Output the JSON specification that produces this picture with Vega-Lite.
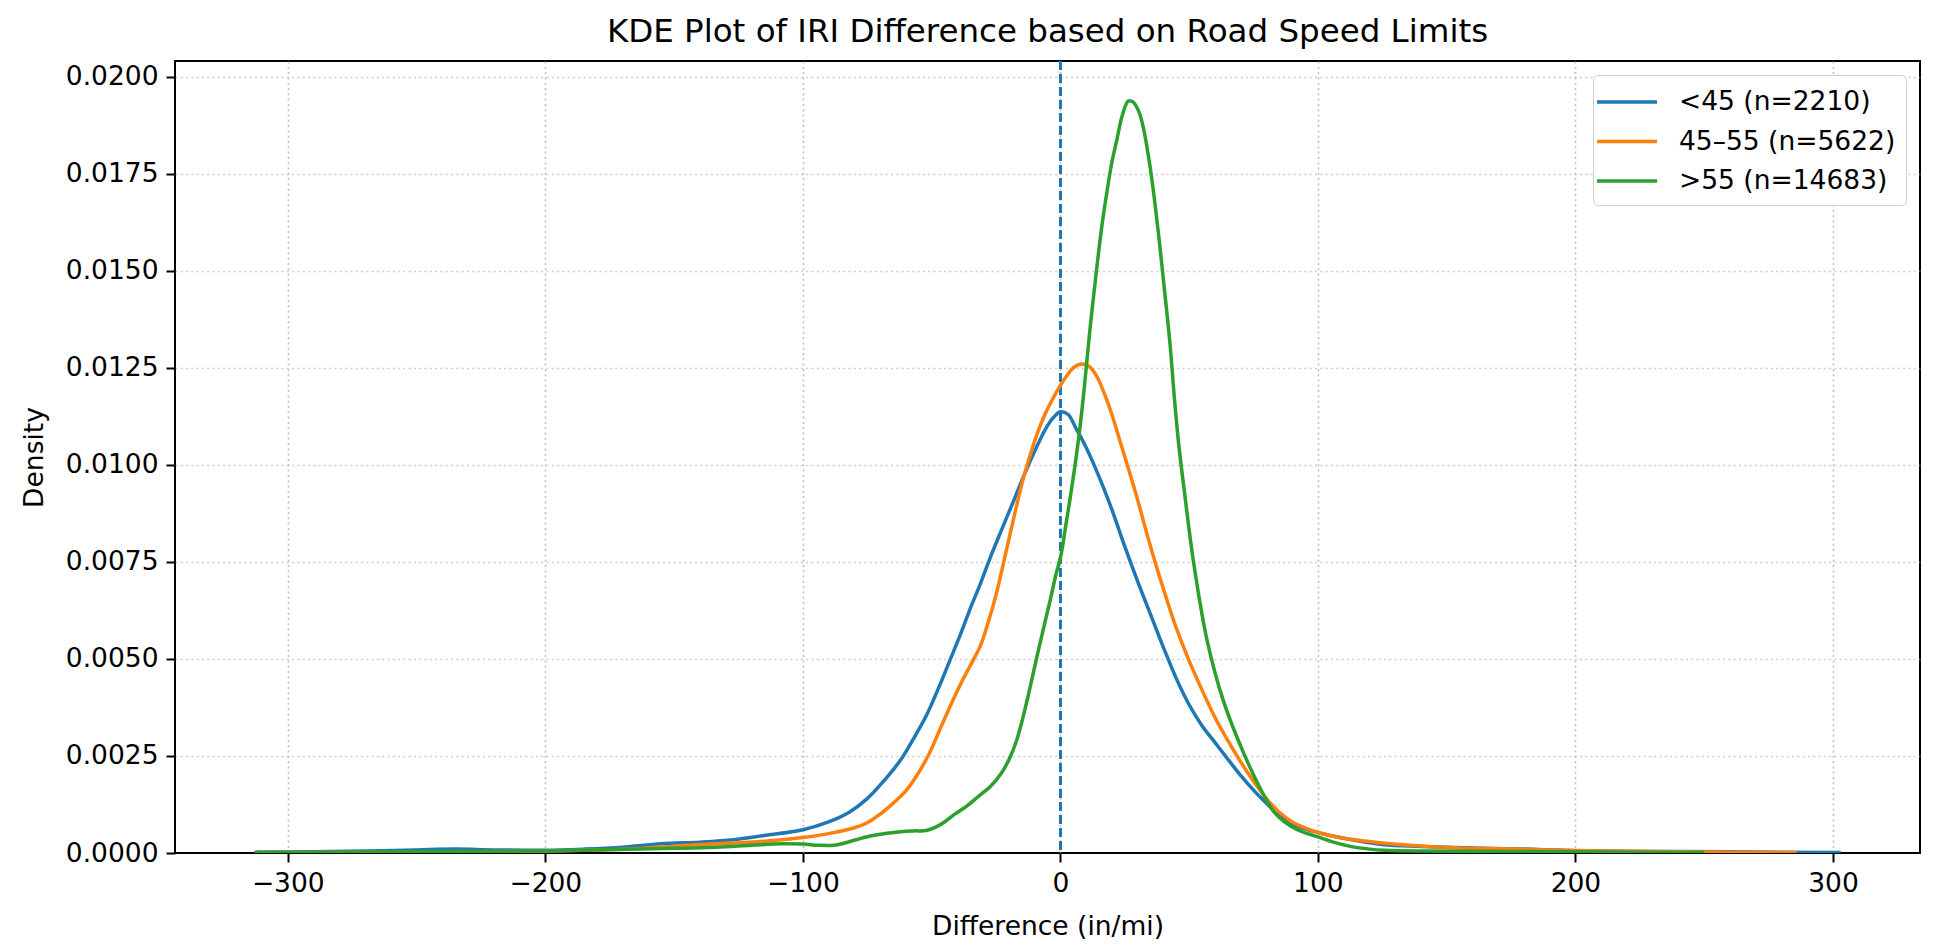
{
  "$schema": "https://vega.github.io/schema/vega-lite/v6.json",
  "autosize": {"type": "none"},
  "width": 1745,
  "height": 792,
  "padding": {"left": 175, "top": 61, "right": 14, "bottom": 98},
  "background": "white",
  "title": {
    "text": "KDE Plot of IRI Difference based on Road Speed Limits",
    "font": "DejaVu Sans",
    "fontSize": 32.5,
    "fontWeight": "normal",
    "color": "#000000",
    "anchor": "middle",
    "offset": 11
  },
  "config": {
    "view": {"stroke": "#000000", "strokeWidth": 2},
    "axis": {
      "domain": false,
      "labelFont": "DejaVu Sans",
      "labelFontSize": 26.5,
      "labelColor": "#000000",
      "titleFont": "DejaVu Sans",
      "titleFontSize": 26.5,
      "titleFontWeight": "normal",
      "titleColor": "#000000",
      "tickColor": "#000000",
      "tickSize": 9,
      "tickWidth": 2,
      "labelPadding": 8,
      "grid": true,
      "gridColor": "#b0b0b0",
      "gridDash": [2, 3.3],
      "gridWidth": 1.6,
      "gridOpacity": 0.8
    },
    "legend": {
      "labelFont": "DejaVu Sans",
      "labelFontSize": 26.5,
      "labelColor": "#000000",
      "labelLimit": 0
    }
  },
  "data": {
    "values": [
      {"g": "<45 (n=2210)", "x": -312, "y": 0.00002},
      {"g": "<45 (n=2210)", "x": -290, "y": 0.00003},
      {"g": "<45 (n=2210)", "x": -270, "y": 0.00005},
      {"g": "<45 (n=2210)", "x": -250, "y": 0.00008},
      {"g": "<45 (n=2210)", "x": -235, "y": 0.0001},
      {"g": "<45 (n=2210)", "x": -220, "y": 0.00008},
      {"g": "<45 (n=2210)", "x": -200, "y": 0.00007},
      {"g": "<45 (n=2210)", "x": -185, "y": 0.0001},
      {"g": "<45 (n=2210)", "x": -170, "y": 0.00015},
      {"g": "<45 (n=2210)", "x": -155, "y": 0.00024},
      {"g": "<45 (n=2210)", "x": -140, "y": 0.00028},
      {"g": "<45 (n=2210)", "x": -127, "y": 0.00034},
      {"g": "<45 (n=2210)", "x": -115, "y": 0.00045},
      {"g": "<45 (n=2210)", "x": -100, "y": 0.0006},
      {"g": "<45 (n=2210)", "x": -90, "y": 0.0008},
      {"g": "<45 (n=2210)", "x": -82, "y": 0.00105},
      {"g": "<45 (n=2210)", "x": -75, "y": 0.0014},
      {"g": "<45 (n=2210)", "x": -68, "y": 0.0019},
      {"g": "<45 (n=2210)", "x": -62, "y": 0.0024},
      {"g": "<45 (n=2210)", "x": -57, "y": 0.00295},
      {"g": "<45 (n=2210)", "x": -52, "y": 0.00355},
      {"g": "<45 (n=2210)", "x": -47, "y": 0.0043},
      {"g": "<45 (n=2210)", "x": -43, "y": 0.00495},
      {"g": "<45 (n=2210)", "x": -39, "y": 0.0056},
      {"g": "<45 (n=2210)", "x": -35, "y": 0.0063},
      {"g": "<45 (n=2210)", "x": -31, "y": 0.00695},
      {"g": "<45 (n=2210)", "x": -27, "y": 0.00765},
      {"g": "<45 (n=2210)", "x": -23, "y": 0.0083},
      {"g": "<45 (n=2210)", "x": -18, "y": 0.0091},
      {"g": "<45 (n=2210)", "x": -14, "y": 0.00975},
      {"g": "<45 (n=2210)", "x": -10, "y": 0.01035},
      {"g": "<45 (n=2210)", "x": -6, "y": 0.0109},
      {"g": "<45 (n=2210)", "x": -3, "y": 0.0112},
      {"g": "<45 (n=2210)", "x": 0, "y": 0.01137},
      {"g": "<45 (n=2210)", "x": 3, "y": 0.0113},
      {"g": "<45 (n=2210)", "x": 6, "y": 0.01095},
      {"g": "<45 (n=2210)", "x": 10, "y": 0.01045},
      {"g": "<45 (n=2210)", "x": 15, "y": 0.0097},
      {"g": "<45 (n=2210)", "x": 20, "y": 0.00885},
      {"g": "<45 (n=2210)", "x": 25, "y": 0.0079},
      {"g": "<45 (n=2210)", "x": 30, "y": 0.007},
      {"g": "<45 (n=2210)", "x": 35, "y": 0.00615},
      {"g": "<45 (n=2210)", "x": 40, "y": 0.0053},
      {"g": "<45 (n=2210)", "x": 45, "y": 0.0045},
      {"g": "<45 (n=2210)", "x": 50, "y": 0.00382},
      {"g": "<45 (n=2210)", "x": 55, "y": 0.00328},
      {"g": "<45 (n=2210)", "x": 60, "y": 0.00285},
      {"g": "<45 (n=2210)", "x": 65, "y": 0.00242},
      {"g": "<45 (n=2210)", "x": 70, "y": 0.002},
      {"g": "<45 (n=2210)", "x": 75, "y": 0.00162},
      {"g": "<45 (n=2210)", "x": 80, "y": 0.00128},
      {"g": "<45 (n=2210)", "x": 85, "y": 0.00097},
      {"g": "<45 (n=2210)", "x": 90, "y": 0.00075},
      {"g": "<45 (n=2210)", "x": 95, "y": 0.00062},
      {"g": "<45 (n=2210)", "x": 101, "y": 0.00051},
      {"g": "<45 (n=2210)", "x": 110, "y": 0.00038},
      {"g": "<45 (n=2210)", "x": 125, "y": 0.00022},
      {"g": "<45 (n=2210)", "x": 140, "y": 0.00017},
      {"g": "<45 (n=2210)", "x": 160, "y": 0.00013},
      {"g": "<45 (n=2210)", "x": 180, "y": 0.0001},
      {"g": "<45 (n=2210)", "x": 200, "y": 0.00006},
      {"g": "<45 (n=2210)", "x": 230, "y": 0.00004},
      {"g": "<45 (n=2210)", "x": 260, "y": 0.00003},
      {"g": "<45 (n=2210)", "x": 303, "y": 0.00001},

      {"g": "45–55 (n=5622)", "x": -312, "y": 0.00001},
      {"g": "45–55 (n=5622)", "x": -280, "y": 0.00002},
      {"g": "45–55 (n=5622)", "x": -250, "y": 0.00003},
      {"g": "45–55 (n=5622)", "x": -220, "y": 0.00004},
      {"g": "45–55 (n=5622)", "x": -200, "y": 0.00005},
      {"g": "45–55 (n=5622)", "x": -180, "y": 0.00008},
      {"g": "45–55 (n=5622)", "x": -165, "y": 0.00011},
      {"g": "45–55 (n=5622)", "x": -147, "y": 0.00019},
      {"g": "45–55 (n=5622)", "x": -130, "y": 0.00025},
      {"g": "45–55 (n=5622)", "x": -115, "y": 0.0003},
      {"g": "45–55 (n=5622)", "x": -100, "y": 0.0004},
      {"g": "45–55 (n=5622)", "x": -90, "y": 0.0005},
      {"g": "45–55 (n=5622)", "x": -80, "y": 0.00065},
      {"g": "45–55 (n=5622)", "x": -75, "y": 0.00078},
      {"g": "45–55 (n=5622)", "x": -70, "y": 0.001},
      {"g": "45–55 (n=5622)", "x": -65, "y": 0.00128},
      {"g": "45–55 (n=5622)", "x": -60, "y": 0.0016},
      {"g": "45–55 (n=5622)", "x": -56, "y": 0.00197},
      {"g": "45–55 (n=5622)", "x": -51, "y": 0.00255},
      {"g": "45–55 (n=5622)", "x": -47, "y": 0.00315},
      {"g": "45–55 (n=5622)", "x": -42, "y": 0.0039},
      {"g": "45–55 (n=5622)", "x": -38, "y": 0.00445},
      {"g": "45–55 (n=5622)", "x": -34, "y": 0.00495},
      {"g": "45–55 (n=5622)", "x": -31, "y": 0.00535},
      {"g": "45–55 (n=5622)", "x": -28, "y": 0.00595},
      {"g": "45–55 (n=5622)", "x": -25, "y": 0.00665},
      {"g": "45–55 (n=5622)", "x": -22, "y": 0.0075},
      {"g": "45–55 (n=5622)", "x": -19.6, "y": 0.0082},
      {"g": "45–55 (n=5622)", "x": -17, "y": 0.00895},
      {"g": "45–55 (n=5622)", "x": -14.4, "y": 0.00965},
      {"g": "45–55 (n=5622)", "x": -12, "y": 0.0102},
      {"g": "45–55 (n=5622)", "x": -9.3, "y": 0.01075},
      {"g": "45–55 (n=5622)", "x": -6, "y": 0.0113},
      {"g": "45–55 (n=5622)", "x": -3, "y": 0.0117},
      {"g": "45–55 (n=5622)", "x": 0, "y": 0.01205},
      {"g": "45–55 (n=5622)", "x": 2.5, "y": 0.0123},
      {"g": "45–55 (n=5622)", "x": 5, "y": 0.0125},
      {"g": "45–55 (n=5622)", "x": 8, "y": 0.0126},
      {"g": "45–55 (n=5622)", "x": 11, "y": 0.01255},
      {"g": "45–55 (n=5622)", "x": 14, "y": 0.0123},
      {"g": "45–55 (n=5622)", "x": 17, "y": 0.01185},
      {"g": "45–55 (n=5622)", "x": 20, "y": 0.0113},
      {"g": "45–55 (n=5622)", "x": 23, "y": 0.01065},
      {"g": "45–55 (n=5622)", "x": 26, "y": 0.01},
      {"g": "45–55 (n=5622)", "x": 30, "y": 0.0091},
      {"g": "45–55 (n=5622)", "x": 33.5, "y": 0.00825},
      {"g": "45–55 (n=5622)", "x": 37, "y": 0.00745},
      {"g": "45–55 (n=5622)", "x": 41, "y": 0.0066},
      {"g": "45–55 (n=5622)", "x": 45, "y": 0.0058},
      {"g": "45–55 (n=5622)", "x": 50, "y": 0.00495},
      {"g": "45–55 (n=5622)", "x": 55, "y": 0.0042},
      {"g": "45–55 (n=5622)", "x": 60, "y": 0.0035},
      {"g": "45–55 (n=5622)", "x": 65, "y": 0.0029},
      {"g": "45–55 (n=5622)", "x": 70, "y": 0.00235},
      {"g": "45–55 (n=5622)", "x": 75, "y": 0.00185},
      {"g": "45–55 (n=5622)", "x": 80, "y": 0.0014},
      {"g": "45–55 (n=5622)", "x": 85, "y": 0.00105},
      {"g": "45–55 (n=5622)", "x": 90, "y": 0.0008},
      {"g": "45–55 (n=5622)", "x": 96, "y": 0.00062},
      {"g": "45–55 (n=5622)", "x": 101, "y": 0.00051},
      {"g": "45–55 (n=5622)", "x": 110, "y": 0.00038},
      {"g": "45–55 (n=5622)", "x": 125, "y": 0.00026},
      {"g": "45–55 (n=5622)", "x": 140, "y": 0.00018},
      {"g": "45–55 (n=5622)", "x": 155, "y": 0.00013},
      {"g": "45–55 (n=5622)", "x": 171, "y": 0.00011},
      {"g": "45–55 (n=5622)", "x": 190, "y": 0.00008},
      {"g": "45–55 (n=5622)", "x": 210, "y": 0.00005},
      {"g": "45–55 (n=5622)", "x": 240, "y": 0.00003},
      {"g": "45–55 (n=5622)", "x": 286, "y": 0.00001},

      {"g": ">55 (n=14683)", "x": -313, "y": 0.00002},
      {"g": ">55 (n=14683)", "x": -290, "y": 0.00002},
      {"g": ">55 (n=14683)", "x": -260, "y": 0.00003},
      {"g": ">55 (n=14683)", "x": -230, "y": 0.00004},
      {"g": ">55 (n=14683)", "x": -200, "y": 0.00005},
      {"g": ">55 (n=14683)", "x": -172, "y": 0.00009},
      {"g": ">55 (n=14683)", "x": -150, "y": 0.00012},
      {"g": ">55 (n=14683)", "x": -134, "y": 0.00015},
      {"g": ">55 (n=14683)", "x": -120, "y": 0.0002},
      {"g": ">55 (n=14683)", "x": -108, "y": 0.00024},
      {"g": ">55 (n=14683)", "x": -100, "y": 0.00023},
      {"g": ">55 (n=14683)", "x": -94, "y": 0.0002},
      {"g": ">55 (n=14683)", "x": -88, "y": 0.0002},
      {"g": ">55 (n=14683)", "x": -82, "y": 0.00029},
      {"g": ">55 (n=14683)", "x": -75, "y": 0.00042},
      {"g": ">55 (n=14683)", "x": -68, "y": 0.0005},
      {"g": ">55 (n=14683)", "x": -62, "y": 0.00055},
      {"g": ">55 (n=14683)", "x": -57, "y": 0.00057},
      {"g": ">55 (n=14683)", "x": -52, "y": 0.00058},
      {"g": ">55 (n=14683)", "x": -48, "y": 0.00068},
      {"g": ">55 (n=14683)", "x": -45, "y": 0.0008},
      {"g": ">55 (n=14683)", "x": -41, "y": 0.001},
      {"g": ">55 (n=14683)", "x": -36.5, "y": 0.0012},
      {"g": ">55 (n=14683)", "x": -32, "y": 0.00145},
      {"g": ">55 (n=14683)", "x": -27.4, "y": 0.0017},
      {"g": ">55 (n=14683)", "x": -23, "y": 0.00205},
      {"g": ">55 (n=14683)", "x": -20, "y": 0.0024},
      {"g": ">55 (n=14683)", "x": -17, "y": 0.0029},
      {"g": ">55 (n=14683)", "x": -14.5, "y": 0.0035},
      {"g": ">55 (n=14683)", "x": -12, "y": 0.0042},
      {"g": ">55 (n=14683)", "x": -9.3, "y": 0.005},
      {"g": ">55 (n=14683)", "x": -6.5, "y": 0.0058},
      {"g": ">55 (n=14683)", "x": -4, "y": 0.0065},
      {"g": ">55 (n=14683)", "x": -2, "y": 0.0071},
      {"g": ">55 (n=14683)", "x": 0.3, "y": 0.0077},
      {"g": ">55 (n=14683)", "x": 2, "y": 0.0084},
      {"g": ">55 (n=14683)", "x": 3.7, "y": 0.0091},
      {"g": ">55 (n=14683)", "x": 5.5, "y": 0.0099},
      {"g": ">55 (n=14683)", "x": 7.5, "y": 0.0109},
      {"g": ">55 (n=14683)", "x": 9.3, "y": 0.012},
      {"g": ">55 (n=14683)", "x": 11.5, "y": 0.0135},
      {"g": ">55 (n=14683)", "x": 14, "y": 0.015},
      {"g": ">55 (n=14683)", "x": 16, "y": 0.0161},
      {"g": ">55 (n=14683)", "x": 18, "y": 0.017},
      {"g": ">55 (n=14683)", "x": 20, "y": 0.0178},
      {"g": ">55 (n=14683)", "x": 22, "y": 0.0184},
      {"g": ">55 (n=14683)", "x": 24, "y": 0.019},
      {"g": ">55 (n=14683)", "x": 26.4, "y": 0.01938},
      {"g": ">55 (n=14683)", "x": 28.3, "y": 0.01935},
      {"g": ">55 (n=14683)", "x": 30.5, "y": 0.0191},
      {"g": ">55 (n=14683)", "x": 32.2, "y": 0.0187},
      {"g": ">55 (n=14683)", "x": 34.8, "y": 0.0177},
      {"g": ">55 (n=14683)", "x": 36.8, "y": 0.0167},
      {"g": ">55 (n=14683)", "x": 38.7, "y": 0.0156},
      {"g": ">55 (n=14683)", "x": 40.6, "y": 0.0144},
      {"g": ">55 (n=14683)", "x": 42.6, "y": 0.0131},
      {"g": ">55 (n=14683)", "x": 44.3, "y": 0.0117},
      {"g": ">55 (n=14683)", "x": 46, "y": 0.0105},
      {"g": ">55 (n=14683)", "x": 48, "y": 0.0094},
      {"g": ">55 (n=14683)", "x": 51.7, "y": 0.0075},
      {"g": ">55 (n=14683)", "x": 56.9, "y": 0.0055},
      {"g": ">55 (n=14683)", "x": 63.4, "y": 0.0039},
      {"g": ">55 (n=14683)", "x": 71, "y": 0.0026},
      {"g": ">55 (n=14683)", "x": 78.9, "y": 0.0015},
      {"g": ">55 (n=14683)", "x": 83, "y": 0.00105},
      {"g": ">55 (n=14683)", "x": 87, "y": 0.0008},
      {"g": ">55 (n=14683)", "x": 92, "y": 0.0006},
      {"g": ">55 (n=14683)", "x": 99.7, "y": 0.00042},
      {"g": ">55 (n=14683)", "x": 106, "y": 0.00028},
      {"g": ">55 (n=14683)", "x": 112.6, "y": 0.00017},
      {"g": ">55 (n=14683)", "x": 120, "y": 0.0001},
      {"g": ">55 (n=14683)", "x": 126, "y": 0.00007},
      {"g": ">55 (n=14683)", "x": 140, "y": 0.00005},
      {"g": ">55 (n=14683)", "x": 171, "y": 0.00004},
      {"g": ">55 (n=14683)", "x": 200, "y": 0.00003},
      {"g": ">55 (n=14683)", "x": 250, "y": 0.00001}
    ]
  },
  "layer": [
    {
      "mark": {"type": "rule", "color": "#1f77b4", "strokeWidth": 2.2, "strokeDash": [9, 4], "opacity": 0.85},
      "encoding": {"x": {"datum": 0, "type": "quantitative"}}
    },
    {
      "mark": {"type": "line", "strokeWidth": 3.5, "interpolate": "catmull-rom", "clip": true},
      "encoding": {
        "x": {
          "field": "x",
          "type": "quantitative",
          "title": "Difference (in/mi)",
          "scale": {"domain": [-343.8, 333.8], "nice": false, "zero": false},
          "axis": {"values": [-300, -200, -100, 0, 100, 200, 300], "format": "d", "titlePadding": 17}
        },
        "y": {
          "field": "y",
          "type": "quantitative",
          "title": "Density",
          "scale": {"domain": [0, 0.02041], "nice": false, "zero": false},
          "axis": {
            "values": [0, 0.0025, 0.005, 0.0075, 0.01, 0.0125, 0.015, 0.0175, 0.02],
            "format": ".4f",
            "titlePadding": 17,
            "gridOpacity": {"condition": {"test": "datum.value === 0", "value": 0}, "value": 0.8}
          }
        },
        "color": {
          "field": "g",
          "type": "nominal",
          "sort": ["<45 (n=2210)", "45–55 (n=5622)", ">55 (n=14683)"],
          "scale": {"domain": ["<45 (n=2210)", "45–55 (n=5622)", ">55 (n=14683)"], "range": ["#1f77b4", "#ff7f0e", "#2ca02c"]},
          "legend": {
            "title": null,
            "orient": "top-right",
            "offset": 14,
            "symbolType": "M-1.53,0H2.47",
            "symbolSize": 900,
            "symbolStrokeWidth": 3.5,
            "labelOffset": 42,
            "labelLimit": 0,
            "rowPadding": 8.5,
            "padding": 10,
            "cornerRadius": 5,
            "strokeColor": "#d0d0d0",
            "fillColor": "#ffffff"
          }
        },
        "order": {"field": "x", "type": "quantitative"}
      }
    }
  ]
}
